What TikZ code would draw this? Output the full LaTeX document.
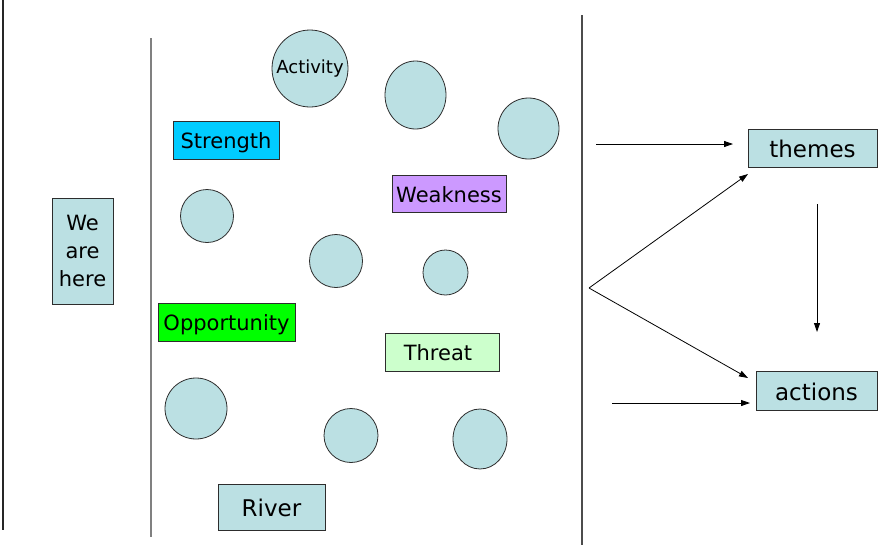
\documentclass[tikz,border=0pt]{standalone}
\usepackage{fontspec}
\setmainfont{DejaVu Sans}
\usetikzlibrary{arrows.meta,shapes.geometric}

\definecolor{pool}{RGB}{187,224,227}
\definecolor{strengthfill}{RGB}{0,204,255}
\definecolor{weakfill}{RGB}{204,153,255}
\definecolor{oppfill}{RGB}{0,255,0}
\definecolor{threatfill}{RGB}{204,255,204}
\definecolor{edge}{RGB}{45,45,45}

\begin{document}
\begin{tikzpicture}[x=1pt,y=-1pt,
  blob/.style={ellipse,draw=edge,fill=pool,line width=0.8pt,inner sep=0pt},
  tag/.style={rectangle,draw=edge,line width=0.8pt,inner sep=0pt,
    text depth=0pt,text height=17pt,
    font=\fontsize{21}{25}\selectfont},
  bigtag/.style={tag,fill=pool,text height=19pt,font=\fontsize{23}{27}\selectfont},
  link/.style={-{Triangle[length=9pt,width=6pt]},line width=0.8pt},
  divider/.style={line width=1.1pt}]
\useasboundingbox (0,0) rectangle (878,547);

% dividers between the zones
\draw[divider,black!85] (3,0) -- (3,530);
\draw[divider,black!50] (151,38) -- (151,537);
\draw[divider,black!70] (582,15) -- (582,545);

% where we stand
\node[bigtag,minimum width=61pt,minimum height=106pt,align=center,
  text height=,text depth=,
  font=\fontsize{21}{28}\selectfont] (here) at (82.5,251) {We\\are\\here};

% the field of activities
\node[blob,minimum width=76pt,minimum height=77pt,
  label={[font=\fontsize{18}{21}\selectfont]center:Activity}] (act) at (310,68.5) {};
\node[blob,minimum width=61pt,minimum height=68pt] (b1) at (415.5,95) {};
\node[blob,minimum width=61pt,minimum height=61pt] (b2) at (528.5,128.5) {};
\node[blob,minimum width=53pt,minimum height=53pt] (b3) at (207,216) {};
\node[blob,minimum width=53pt,minimum height=53pt] (b4) at (336,261) {};
\node[blob,minimum width=45pt,minimum height=45pt] (b5) at (445.5,272.5) {};
\node[blob,minimum width=62pt,minimum height=61pt] (b6) at (196,408.5) {};
\node[blob,minimum width=54pt,minimum height=54pt] (b7) at (351,435.5) {};
\node[blob,minimum width=54pt,minimum height=60pt] (b8) at (480,439) {};

\node[tag,fill=strengthfill,minimum width=106pt,minimum height=38pt] (str) at (226,140) {Strength};
\node[tag,fill=weakfill,minimum width=114pt,minimum height=37pt] (weak) at (449,193.5) {Weakness};
\node[tag,fill=oppfill,minimum width=137pt,minimum height=38pt] (opp) at (226.5,322) {Opportunity};
\node[tag,fill=threatfill,minimum width=114pt,minimum height=38pt] (thr) at (442,352) {\hspace*{-8pt}Threat};
\node[bigtag,minimum width=107pt,minimum height=46pt] (river) at (271.5,507) {River};

% outcomes
\node[bigtag,minimum width=129pt,minimum height=38pt] (themes) at (812.5,148) {themes};
\node[bigtag,minimum width=121pt,minimum height=39pt] (actions) at (816.5,390.5) {actions};

% connector ends
\coordinate (inA) at (596,144);
\coordinate (inAend) at (733,144);
\coordinate (fork) at (589,288);
\coordinate (forkUp) at (748,174);
\coordinate (forkDown) at (748,378);
\coordinate (inB) at (612,403);
\coordinate (inBend) at (750,403);
\coordinate (drop) at (817,204);
\coordinate (dropEnd) at (817,332);

\draw[link] (inA) -- (inAend);
\draw[link] (fork) -- (forkUp);
\draw[link] (fork) -- (forkDown);
\draw[link] (inB) -- (inBend);
\draw[link] (drop) -- (dropEnd);
\end{tikzpicture}
\end{document}
